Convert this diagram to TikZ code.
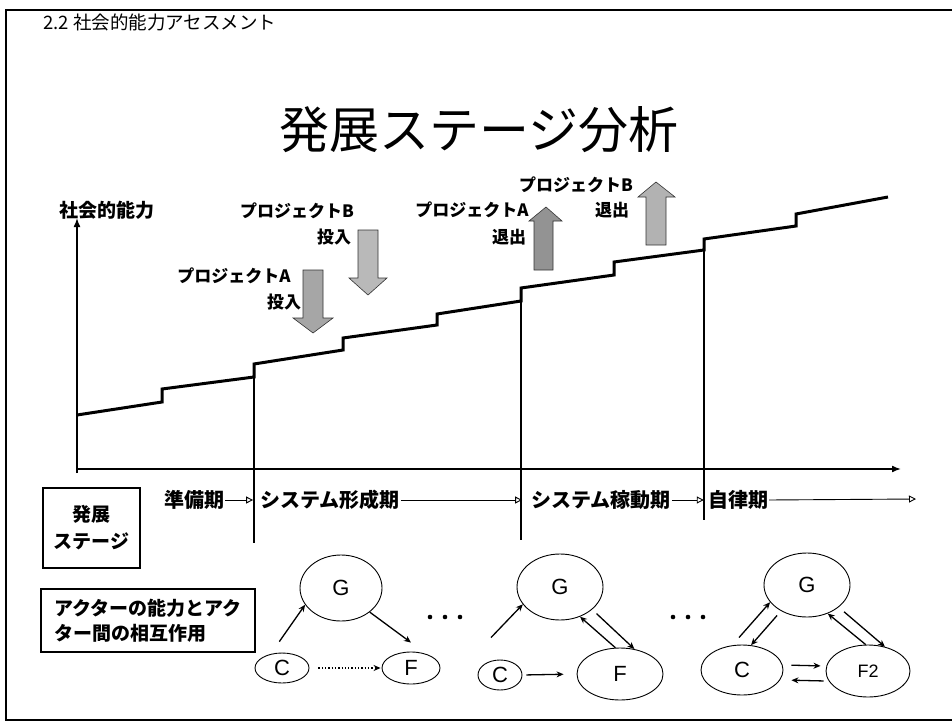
\documentclass[tikz,border=0pt]{standalone}
\usepackage{fontspec}
\setmainfont{Liberation Sans}
\newfontfamily\jp{Noto Sans CJK JP}
\usetikzlibrary{arrows.meta,shapes.geometric,calc}
\begin{document}
\begin{tikzpicture}[x=1pt,y=-1pt,
  jsmall/.style={font=\jp\bfseries\fontsize{17}{20}\selectfont, inner sep=0pt},
  jstage/.style={font=\jp\bfseries\fontsize{20}{24}\selectfont, inner sep=0pt},
  box/.style={draw, line width=1.2pt, inner sep=0pt},
  ell/.style={draw, ellipse, line width=0.9pt, inner sep=0pt, font=\fontsize{22}{26}\selectfont},
  arr/.style={line width=1.3pt, -{Stealth[length=7pt,width=6pt]}},
  stagearr/.style={line width=0.9pt, -{Triangle[open,length=7pt,width=7pt]}},
  axis/.style={line width=1.6pt, -{Latex[length=9pt,width=7pt]}},
  blockarrow/.style={draw=black!80, line width=0.6pt},
]
\useasboundingbox (0,0) rectangle (952,722);
% frame
\draw[line width=1.8pt] (952,10) -- (6,10) -- (6,720) -- (952,720);

% titles
\node[font=\jp\fontsize{18.5}{22}\selectfont, anchor=west, inner sep=0pt] (title) at (43,22) {2.2 社会的能力アセスメント};
\node[font=\jp\fontsize{50}{58}\selectfont, inner sep=0pt] (bigtitle) at (479,130) {発展ステージ分析};

% axes
\coordinate (origin) at (77,469);
\coordinate (ytip) at (77,218);
\coordinate (xtip) at (901,469);
\coordinate (ybot) at (77,473);
\draw[axis] (ybot) -- (ytip);
\draw[axis] (origin) -- (xtip);
\node[jstage, font=\jp\bfseries\fontsize{19}{22}\selectfont] (ylabel) at (107,210) {社会的能力};

% staircase
\draw[line width=3pt, line join=miter] (77,415) -- (162,402) -- (162,389) -- (254,377) -- (254,364) -- (343,350) -- (343,338) -- (437,325) -- (437,314) -- (521,301) -- (521,288) -- (614,275) -- (614,262) -- (704,250) -- (704,239) -- (796,226) -- (796,214) -- (888,197);

% stage boundaries
\draw[line width=1.6pt] (254,377) -- (254,543);
\draw[line width=1.6pt] (521,301) -- (521,540);
\draw[line width=1.6pt] (704,250) -- (704,520);

% block arrows
\draw[blockarrow, fill=gray!70] (303,270) -- (323,270) -- (323,318) -- (333,318) -- (313,333) -- (293,318) -- (303,318) -- cycle;
\draw[blockarrow, fill=gray!55] (358,230) -- (378,230) -- (378,278) -- (387,278) -- (368,295) -- (349,278) -- (358,278) -- cycle;
\draw[blockarrow, fill=gray!85] (534,270) -- (553,270) -- (553,221) -- (562,221) -- (546,207) -- (529,221) -- (534,221) -- cycle;
\draw[blockarrow, fill=gray!60] (646,245) -- (666,245) -- (666,197) -- (675,197) -- (656,182) -- (638,197) -- (646,197) -- cycle;

% project labels
\node[jsmall] (pbin) at (297,211) {プロジェクトB};
\node[jsmall] (pbin2) at (334,237) {投入};
\node[jsmall] (pain) at (234,276) {プロジェクトA};
\node[jsmall] (pain2) at (284,302) {投入};
\node[jsmall] (paout) at (472,210) {プロジェクトA};
\node[jsmall] (paout2) at (509,237) {退出};
\node[jsmall] (pbout) at (576,185) {プロジェクトB};
\node[jsmall] (pbout2) at (612,210) {退出};

% stages
\node[jstage] (s1) at (194,500) {準備期};
\node[jstage] (s2) at (330,500) {システム形成期};
\node[jstage] (s3) at (601,500) {システム稼動期};
\node[jstage] (s4) at (738,500) {自律期};
\coordinate (send) at (916,499);
\draw[stagearr, shorten <=1pt, shorten >=7pt] (s1.east) -- (s2.west);
\draw[stagearr, shorten <=1pt, shorten >=9pt] (s2.east) -- (s3.west);
\draw[stagearr, shorten <=1pt, shorten >=4pt] (s3.east) -- (s4.west);
\draw[stagearr, shorten <=1pt] (s4.east) -- (send);

% left boxes
\node[box, minimum width=97pt, minimum height=80pt, align=center, font=\jp\bfseries\fontsize{19}{27}\selectfont] (stagebox) at (91.5,528) {発展\\ステージ};
\node[box, minimum width=214pt, minimum height=63pt, align=left, font=\jp\bfseries\fontsize{19}{25}\selectfont] (actorbox) at (148,620.5) {アクターの能力とアク\\ター間の相互作用};

% graph 1
\node[ell, minimum width=82pt, minimum height=66pt] (g1) at (341,588) {G};
\node[ell, minimum width=54pt, minimum height=30pt] (c1) at (282,668) {C};
\node[ell, minimum width=58pt, minimum height=32pt] (f1) at (411,668) {F};
\draw[arr] ([yshift=11pt]c1.100) -- (g1.205);
\draw[arr] (g1.-40) -- ([yshift=9pt]f1.north);
\draw[arr, dotted, shorten <=9pt, shorten >=1pt] (c1.east) -- (f1.west);
\fill (430,617) circle (2.3pt) (445,617) circle (2.3pt) (460,617) circle (2.3pt);

% graph 2
\node[ell, minimum width=86pt, minimum height=66pt] (g2) at (560,587) {G};
\node[ell, minimum width=44pt, minimum height=30pt] (c2) at (500,675) {C};
\node[ell, minimum width=86pt, minimum height=52pt] (f2) at (620,674) {F};
\draw[arr] ([xshift=-9pt,yshift=22pt]c2.north) -- (g2.205);
\draw[arr] (f2.100) -- (g2.-56);
\draw[arr, shorten <=6pt] (g2.-35) -- (f2.60);
\draw[arr, shorten <=4pt, shorten >=13pt] (c2.east) -- (f2.west);
\fill (673,617) circle (2.3pt) (688,617) circle (2.3pt) (703,617) circle (2.3pt);

% graph 3
\node[ell, minimum width=86pt, minimum height=64pt] (g3) at (807,585) {G};
\node[ell, minimum width=82pt, minimum height=50pt] (c3) at (742,670) {C};
\node[ell, minimum width=84pt, minimum height=52pt, font=\fontsize{18}{22}\selectfont] (f3) at (868,671) {F2};
\draw[arr] ([xshift=-3pt,yshift=7pt]c3.north) -- (g3.205);
\draw[arr, shorten <=6pt] (g3.225) -- (c3.70);
\draw[arr] (f3.95) -- (g3.-54);
\draw[arr, shorten <=7pt] (g3.-35) -- (f3.55);
\draw[arr, shorten <=8pt, shorten >=5pt] ([yshift=5pt]c3.east) -- ([yshift=5pt]f3.west);
\draw[arr, shorten <=2pt, shorten >=8pt] ([yshift=-10pt]f3.west) -- ([yshift=-10pt]c3.east);
\end{tikzpicture}
\end{document}
